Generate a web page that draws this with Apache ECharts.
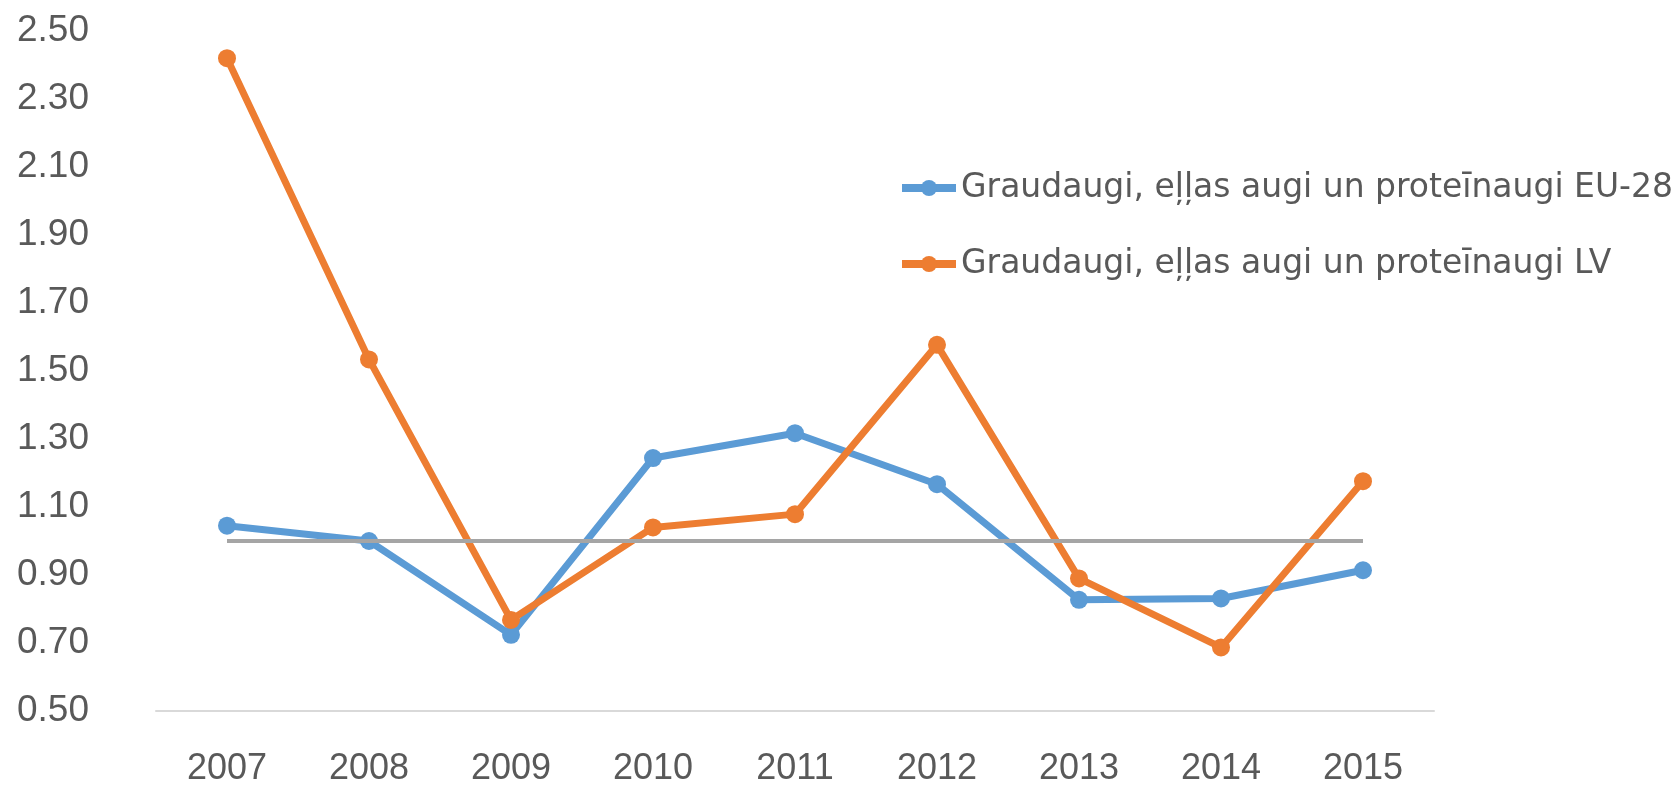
<!DOCTYPE html>
<html>
<head>
<meta charset="utf-8">
<style>
  html, body { margin: 0; padding: 0; background: #fff; }
  #chart { width: 1676px; height: 787px; }
</style>
<script src="https://cdn.jsdelivr.net/npm/echarts@6/dist/echarts.min.js"></script>
</head>
<body>
<div id="chart"></div>
<script>
// gadi
var years = ["2007", "2008", "2009", "2010", "2011", "2012", "2013", "2014", "2015"];
// indeksi
var euValues = [1.045, 1.0, 0.724, 1.244, 1.317, 1.167, 0.827, 0.831, 0.914];
var lvValues = [2.42, 1.534, 0.768, 1.04, 1.079, 1.577, 0.89, 0.687, 1.176];
var baseValues = [1, 1, 1, 1, 1, 1, 1, 1, 1];
var euName = "Graudaugi, eļļas augi un proteīnaugi EU-28";
var lvName = "Graudaugi, eļļas augi un proteīnaugi LV";

var chart = echarts.init(document.getElementById("chart"));

var option = {
  backgroundColor: "#ffffff",
  animation: false,
  grid: {
    left: 156,
    right: 242,
    top: 31,
    bottom: 70,
  },
  legend: {
    data: [euName, lvName],
    orient: "vertical",
    left: 893,
    top: 165,
    itemWidth: 54,
    itemHeight: 20,
    itemGap: 40,
    lineStyle: { width: 8 },
    textStyle: {
      color: "#595959",
      fontFamily: "DejaVu Sans",
      fontSize: 33,
      lineHeight: 36,
    },
  },
  xAxis: {
    type: "category",
    data: years,
    boundaryGap: true,
    axisLine: {
      lineStyle: { color: "#d9d9d9", width: 2 },
    },
    axisTick: { show: false },
    axisLabel: {
      color: "#595959",
      fontFamily: "Liberation Sans",
      fontSize: 36,
      margin: 40,
    },
  },
  yAxis: {
    type: "value",
    min: 0.5,
    max: 2.5,
    interval: 0.2,
    axisLine: { show: false },
    axisTick: { show: false },
    splitLine: { show: false },
    axisLabel: {
      color: "#595959",
      fontFamily: "Liberation Sans",
      fontSize: 37,
      margin: 67,
      formatter: function (v) {
        return v.toFixed(2);
      },
    },
  },
  series: [
    {
      name: euName,
      type: "line",
      data: euValues,
      color: "#5b9bd5",
      symbol: "circle",
      symbolSize: 18,
      lineStyle: { width: 7, color: "#5b9bd5" },
      itemStyle: { color: "#5b9bd5" },
      z: 3,
    },
    {
      name: lvName,
      type: "line",
      data: lvValues,
      color: "#ed7d31",
      symbol: "circle",
      symbolSize: 18,
      lineStyle: { width: 7, color: "#ed7d31" },
      itemStyle: { color: "#ed7d31" },
      z: 4,
    },
    {
      name: "bāze",
      type: "line",
      data: baseValues,
      symbol: "none",
      lineStyle: { width: 4, color: "#a5a5a5" },
      z: 5,
    },
  ],
};

chart.setOption(option);
window.onresize = chart.resize;
</script>
</body>
</html>
